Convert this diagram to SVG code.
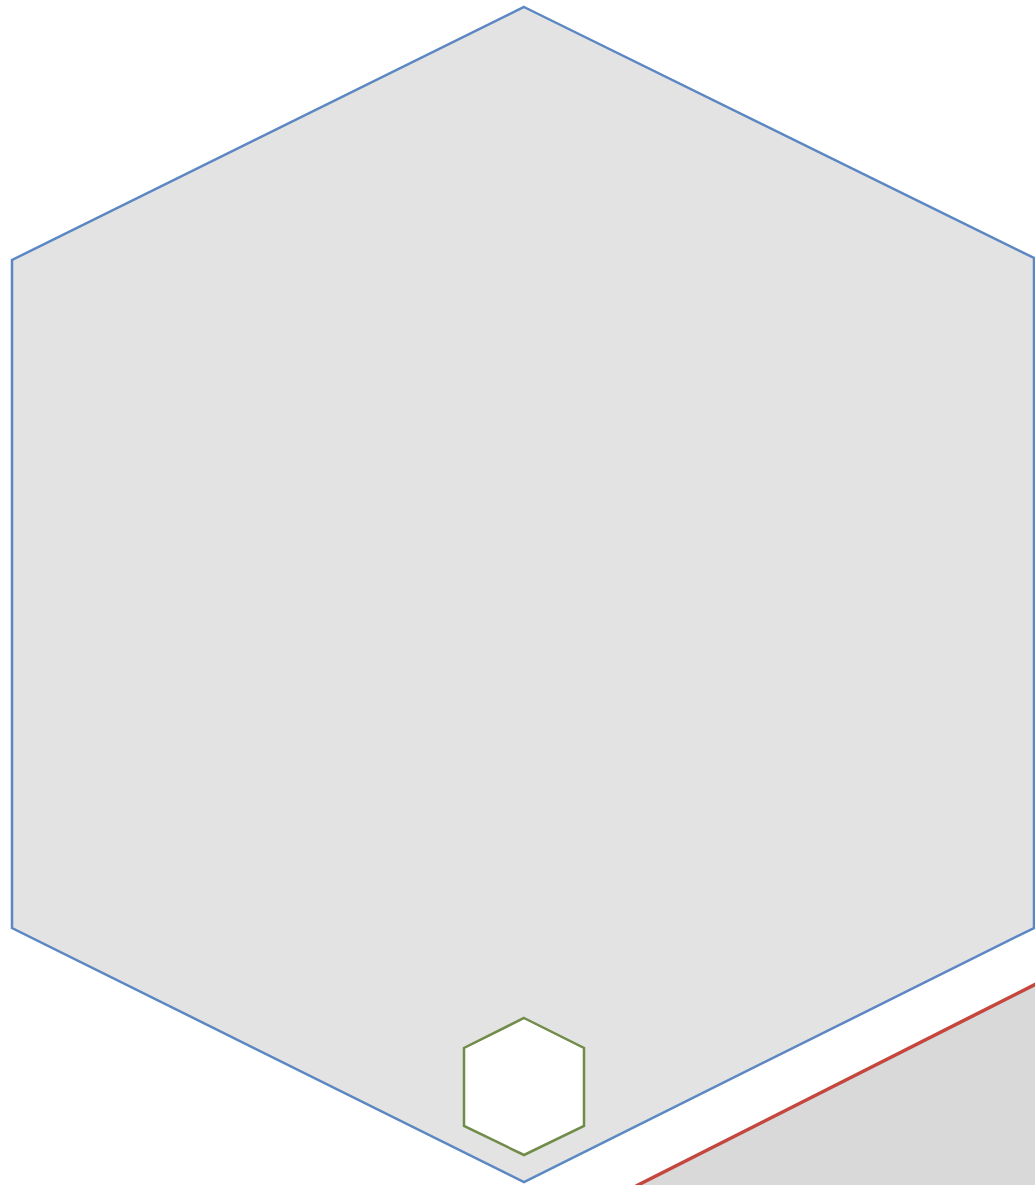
<svg xmlns="http://www.w3.org/2000/svg" width="1035" height="1185" viewBox="0 0 1035 1185">
<style>
.big{fill:#e3e3e3;stroke:#5b87c2;stroke-width:2.5;stroke-linejoin:miter}
.small{fill:#ffffff;stroke:#6f8c48;stroke-width:2.5}
.corner{fill:#d9d9d9;stroke:none}
.red{fill:none;stroke:#c4463c;stroke-width:3.5}
</style>
<rect width="1035" height="1185" fill="#ffffff"/>
<g id="big-hexagon">
<polygon class="big" points="524,7 1034,258 1034,928 524,1182 12,928 12,260"/>
</g>
<g id="small-hexagon">
<polygon class="small" points="524,1018 584,1048 584,1126 524,1155 464,1126 464,1048"/>
</g>
<g id="corner">
<polygon class="corner" points="1035,984 637,1185 1035,1185"/>
<line class="red" x1="1036" y1="984" x2="636" y2="1186"/>
</g>
</svg>
